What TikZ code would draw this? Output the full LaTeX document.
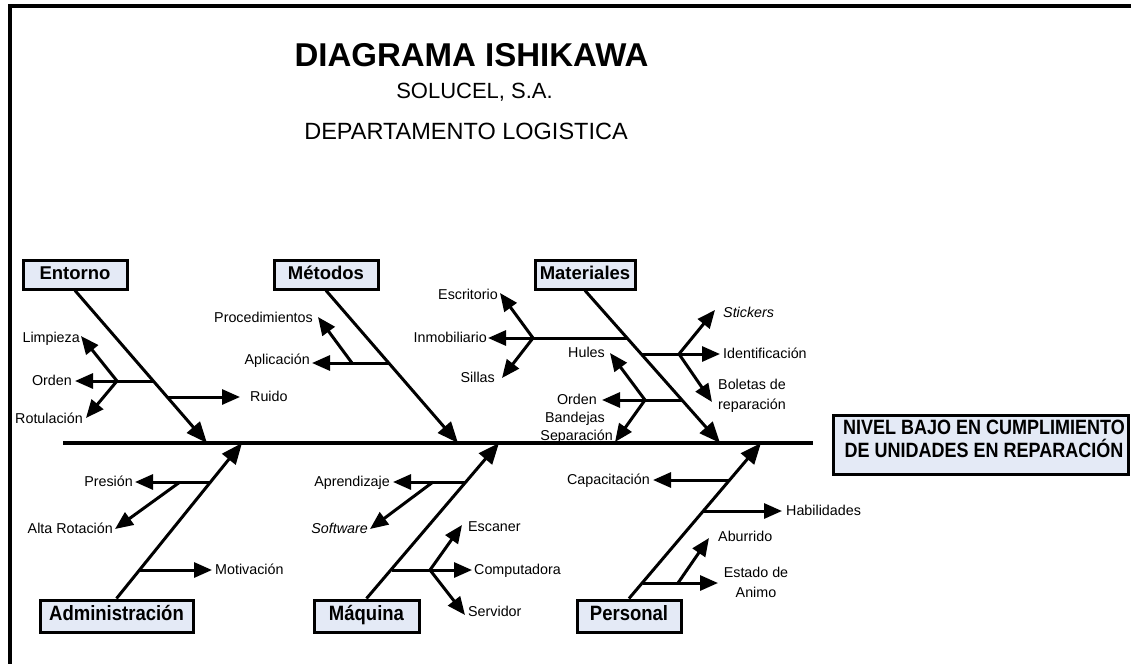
\documentclass[tikz,border=0pt]{standalone}
\usepackage{graphicx}
\usepackage{fontspec}
\setmainfont{Liberation Sans}
\usetikzlibrary{arrows.meta}
\definecolor{boxfill}{HTML}{E4EAF6}

\begin{document}
\begin{tikzpicture}[x=1pt,y=-1pt,
  lbl/.style={font=\fontsize{14.3}{20}\selectfont, inner sep=0pt, text height=10.5pt, text depth=2pt},
  lbl2/.style={font=\fontsize{14.3}{20}\selectfont, inner sep=0pt, align=center},
  cat/.style={draw=black, line width=3pt, fill=boxfill, inner sep=0pt,
              text height=13.5pt, text depth=4pt,
              font=\fontsize{18.5}{20}\selectfont\bfseries},
  bone/.style={line width=3pt, -{Triangle[length=21pt,width=17pt]}},
  twig/.style={line width=3pt, -{Triangle[length=18pt,width=15pt]}},
  rib/.style={line width=3pt},
]
\useasboundingbox (0,0) rectangle (1131,664);

% page frame
\draw[line width=4pt] (1131,6) -- (9.5,6) -- (9.5,664);

% heading
\node[font=\fontsize{33}{36}\selectfont\bfseries] (title) at (471.5,55) {DIAGRAMA ISHIKAWA};
\node[font=\fontsize{22}{26}\selectfont] (company) at (474.5,92) {SOLUCEL, S.A.};
\node[font=\fontsize{23.5}{26}\selectfont] (dept) at (466,131) {DEPARTAMENTO LOGISTICA};

% spine and effect
\coordinate (spL) at (63,443);
\coordinate (spR) at (813,443);
\draw[line width=3.5pt] (spL) -- (spR);
\node[draw=black, line width=3pt, fill=boxfill, minimum width=295, minimum height=59] (head) at (981,444.5) {};
\node[inner sep=0pt] (headtxt) at (984,441)
  {\scalebox{1}[1.15]{\begin{tabular}{@{}c@{}}\fontsize{18}{24}\selectfont\bfseries NIVEL BAJO EN CUMPLIMIENTO\\[1pt]
   \fontsize{18}{24}\selectfont\bfseries DE UNIDADES EN REPARACIÓN\end{tabular}}};

% ---------- Entorno ----------
\node[cat, minimum width=104, minimum height=29] (entorno) at (75,274.5) {Entorno};
\coordinate (sp1) at (207,443);
\draw[bone] (entorno.south) -- (sp1);
\coordinate (e1) at (153,381);
\coordinate (ef) at (117,381);
\coordinate (tLimp) at (81,336);
\coordinate (tOrd) at (75,381);
\coordinate (tRot) at (86,418);
\draw[rib] (e1) -- (ef);
\draw[twig] (ef) -- (tLimp);
\draw[twig] (ef) -- (tOrd);
\draw[twig] (ef) -- (tRot);
\node[lbl, anchor=east] (limp) at (80,338) {Limpieza};
\node[lbl, anchor=east] (orden1) at (72,381) {Orden};
\node[lbl, anchor=east] (rotul) at (83,419) {Rotulación};
\coordinate (e2) at (167.5,397);
\coordinate (tRuido) at (240,397);
\draw[twig] (e2) -- (tRuido);
\node[lbl, anchor=west] (ruido) at (250,397) {Ruido};

% ---------- Métodos ----------
\node[cat, minimum width=104, minimum height=29] (metodos) at (326,274.5) {Métodos};
\coordinate (sp2) at (458,443);
\draw[bone] (metodos.south) -- (sp2);
\coordinate (m1) at (389,363);
\coordinate (mf) at (352,363);
\coordinate (tApl) at (312,363);
\coordinate (tProc) at (318,317);
\draw[twig] (m1) -- (tApl);
\draw[twig] (mf) -- (tProc);
\node[lbl, anchor=east] (proc) at (313,318) {Procedimientos};
\node[lbl, anchor=east] (aplic) at (310,360) {Aplicación};

% ---------- Materiales ----------
\node[cat, minimum width=100, minimum height=29] (mater) at (585,274.5) {Materiales};
\coordinate (sp3) at (720,443);
\draw[bone] (mater.south) -- (sp3);
% upper left branch
\coordinate (a1) at (628,338);
\coordinate (af) at (533,338);
\coordinate (tEsc) at (500,293);
\coordinate (tInm) at (488,338);
\coordinate (tSil) at (502,378);
\draw[rib] (a1) -- (af);
\draw[twig] (af) -- (tEsc);
\draw[twig] (af) -- (tInm);
\draw[twig] (af) -- (tSil);
\node[lbl, anchor=east] (escrit) at (498,295) {Escritorio};
\node[lbl, anchor=east] (inmob) at (487,338) {Inmobiliario};
\node[lbl, anchor=east] (sillas) at (495,378) {Sillas};
% right branch
\coordinate (b1) at (642,354);
\coordinate (bf) at (679,354);
\coordinate (tIdent) at (720,354);
\coordinate (tStick) at (715,310);
\coordinate (tBol) at (712,402);
\draw[twig] (b1) -- (tIdent);
\draw[twig] (bf) -- (tStick);
\draw[twig] (bf) -- (tBol);
\node[lbl, anchor=west] (stick) at (723,313) {\itshape Stickers};
\node[lbl, anchor=west] (ident) at (723,354) {Identificación};
\node[lbl2, anchor=west] (bolet) at (718,396) {Boletas de\\reparación};
% lower left branch
\coordinate (c1) at (682,400);
\coordinate (cf) at (645,400);
\coordinate (tOrd2) at (602,400);
\coordinate (tHul) at (610,353);
\coordinate (tSep) at (615,442);
\draw[twig] (c1) -- (tOrd2);
\draw[twig] (cf) -- (tHul);
\draw[twig] (cf) -- (tSep);
\node[lbl, anchor=east] (hules) at (605,353) {Hules};
\node[lbl, anchor=east] (orden2) at (597,400) {Orden};
\node[lbl, anchor=east] (bandej) at (605,418) {Bandejas};
\node[lbl, anchor=east] (separ) at (613,436) {Separación};

% ---------- Administración ----------
\node[cat, minimum width=153, minimum height=32] (admin) at (116.5,616) {\scalebox{1}[1.12]{Administración}};
\coordinate (sp4) at (242,443);
\draw[bone] (admin.north) -- (sp4);
\coordinate (d1) at (211,482);
\coordinate (df) at (180,482);
\coordinate (tPres) at (135,482);
\coordinate (tAlta) at (115,529);
\draw[twig] (d1) -- (tPres);
\draw[twig] (df) -- (tAlta);
\node[lbl, anchor=east] (presion) at (133,482) {Presión};
\node[lbl, anchor=east] (alta) at (113,529) {Alta Rotación};
\coordinate (d2) at (140,570);
\coordinate (tMot) at (212,570);
\draw[twig] (d2) -- (tMot);
\node[lbl, anchor=west] (motiv) at (215,570) {Motivación};

% ---------- Máquina ----------
\node[cat, minimum width=105, minimum height=32] (maquina) at (366.5,616) {\scalebox{1}[1.12]{Máquina}};
\coordinate (sp5) at (499,443);
\draw[bone] (maquina.north) -- (sp5);
\coordinate (f1) at (466,482);
\coordinate (ff) at (433,482);
\coordinate (tApr) at (393,482);
\coordinate (tSoft) at (370,529);
\draw[twig] (f1) -- (tApr);
\draw[twig] (ff) -- (tSoft);
\node[lbl, anchor=east] (aprend) at (390,482) {Aprendizaje};
\node[lbl, anchor=east] (softw) at (368,529) {\itshape Software};
\coordinate (g1) at (392,570);
\coordinate (gf) at (430,570);
\coordinate (tComp) at (472,570);
\coordinate (tEscn) at (462,525);
\coordinate (tServ) at (465,615);
\draw[twig] (g1) -- (tComp);
\draw[twig] (gf) -- (tEscn);
\draw[twig] (gf) -- (tServ);
\node[lbl, anchor=west] (escaner) at (468,527) {Escaner};
\node[lbl, anchor=west] (compu) at (474,570) {Computadora};
\node[lbl, anchor=west] (servid) at (468,612) {Servidor};

% ---------- Personal ----------
\node[cat, minimum width=104, minimum height=32] (personal) at (629,616) {\scalebox{1}[1.12]{Personal}};
\coordinate (sp6) at (761,443);
\draw[bone] (personal.north) -- (sp6);
\coordinate (h1) at (730,480);
\coordinate (tCap) at (653,480);
\draw[twig] (h1) -- (tCap);
\node[lbl, anchor=east] (capac) at (650,480) {Capacitación};
\coordinate (h2) at (704,511);
\coordinate (tHab) at (782,511);
\draw[twig] (h2) -- (tHab);
\node[lbl, anchor=west] (habil) at (786,511) {Habilidades};
\coordinate (h3) at (643,583);
\coordinate (hf) at (678,583);
\coordinate (tEst) at (718,583);
\coordinate (tAbu) at (709,538);
\draw[twig] (h3) -- (tEst);
\draw[twig] (hf) -- (tAbu);
\node[lbl, anchor=west] (aburr) at (718,537) {Aburrido};
\node[lbl2] (estado) at (756,582) {Estado de\\Animo};

\end{tikzpicture}
\end{document}
